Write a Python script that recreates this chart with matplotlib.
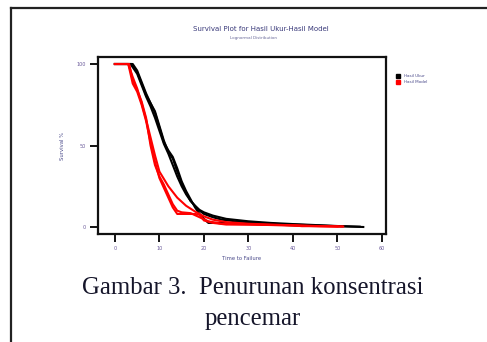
import matplotlib
matplotlib.use("Agg")
import matplotlib.pyplot as plt
from matplotlib.lines import Line2D

# ---- data ----
series_names = ["Hasil Ukur", "Hasil Model"]

black1_t = [0, 3.8, 5, 6, 7, 8, 9, 10, 11, 12, 13, 14, 15, 16, 17, 18, 19, 20, 22, 24, 27, 30, 35, 40, 45, 50, 55.8]
black1_s = [100, 100, 95, 88, 81, 76, 71, 62, 53, 46, 42, 34, 27, 21, 16, 13, 10, 8, 6, 4.5, 3.5, 3, 2, 1.5, 1, 0.5, 0]
black2_t = [0, 3.5, 5, 6, 7, 8, 9, 10, 11, 12, 13, 14, 15, 16, 17, 18, 19, 20, 22, 25, 30, 35, 40, 45, 50, 55]
black2_s = [100, 100, 94, 87, 80, 74, 67, 59, 51, 45, 38, 31, 25, 20, 16, 13, 10.5, 9, 7, 5, 3.5, 2.5, 1.8, 1.2, 0.6, 0.2]
black3_t = [0, 4, 5, 6, 7, 8, 9, 10, 11, 12, 13, 14, 15, 16, 17, 18, 19, 20, 21, 24, 30, 36, 42]
black3_s = [100, 100, 96, 89, 82, 76, 70, 61, 52, 47, 43, 36, 28, 22, 17, 12, 8, 5, 2.5, 2.5, 2, 1.5, 0.8]

red1_t = [0, 3, 4, 5, 6, 7, 8, 9, 10, 11, 12, 13, 14, 16, 18, 19, 20, 22, 25, 30, 35, 40, 42, 45, 51.3]
red1_s = [100, 100, 88, 83, 75, 65, 52, 40, 30, 24, 18, 12, 8, 8, 8, 7.5, 4, 2.5, 1.5, 1.5, 1.2, 1, 0.5, 0.5, 0.3]
red2_t = [0, 3, 4, 5, 6, 7, 8, 9, 10, 12, 14, 16, 18, 20, 22, 25, 30, 35, 40, 45, 51]
red2_s = [100, 100, 92, 85, 76, 66, 55, 44, 34, 25, 18, 13, 9.5, 6.5, 4.5, 3, 2, 1.5, 1, 0.5, 0.3]
red3_t = [0, 3.2, 4, 5, 6, 7, 8, 9, 10, 11, 12, 13, 14, 15, 17, 19, 21, 24, 30, 40, 50]
red3_s = [100, 100, 90, 84, 77, 67, 50, 38, 31, 26, 20, 14, 10, 9, 8.5, 6, 3.5, 2, 1.5, 1, 0.3]

black_curves = [(black1_t, black1_s), (black2_t, black2_s), (black3_t, black3_s)]
red_curves = [(red1_t, red1_s), (red2_t, red2_s), (red3_t, red3_s)]

x_ticks = [0, 10, 20, 30, 40, 50, 60]
y_ticks = [0, 50, 100]

title = "Survival Plot for Hasil Ukur-Hasil Model"
subtitle = "Lognormal Distribution"
xlabel = "Time to Failure"
ylabel = "Survival %"
caption1 = "Gambar 3.  Penurunan konsentrasi"
caption2 = "pencemar"

# ---- figure ----
W, H = 487, 342
fig = plt.figure(figsize=(W / 100, H / 100), dpi=100)
fig.patch.set_facecolor("white")

# outer scanned frame
fig.add_artist(Line2D([11 / W, 11 / W], [0, 1 - 8 / H], color="#222222", lw=1.6, transform=fig.transFigure))
fig.add_artist(Line2D([11 / W, 1], [1 - 8 / H, 1 - 8 / H], color="#222222", lw=1.6, transform=fig.transFigure))

ax = fig.add_axes([98 / W, 1 - 234 / H, (386 - 98) / W, (234 - 57) / H])
for t, s in black_curves:
    ax.plot(t, s, color="black", lw=1.5, solid_joinstyle="round")
for t, s in red_curves:
    ax.plot(t, s, color="#ff0000", lw=1.5, solid_joinstyle="round")

ax.set_xlim(-3.8, 60.9)
ax.set_ylim(-4.3, 104.3)
ax.set_xticks(x_ticks)
ax.set_yticks(y_ticks)
tick_color = "#6a5a9a"
ax.tick_params(axis="both", direction="out", length=6, width=1.3, colors="black",
               labelsize=3.5, labelcolor=tick_color, pad=3)
for sp in ax.spines.values():
    sp.set_linewidth(1.6)
    sp.set_color("#111111")

ax.set_xlabel(xlabel, fontsize=3.8, color="#4a4a8a", labelpad=3)
ax.set_ylabel(ylabel, fontsize=3.8, color="#4a4a8a", labelpad=8)

fig.text(0.535, 1 - 29 / H, title, ha="center", va="center", fontsize=5, color="#3a3a7a")
fig.text(0.52, 1 - 38 / H, subtitle, ha="center", va="center", fontsize=3, color="#6a6a9a")

handles = [Line2D([], [], color="black", marker="s", ms=2.5, ls="none"),
           Line2D([], [], color="#ff0000", marker="s", ms=2.5, ls="none")]
fig.legend(handles, series_names, loc="upper left", bbox_to_anchor=(396 / W, 1 - 74 / H),
           frameon=False, fontsize=3, labelcolor="#4a4a8a", handletextpad=0.8,
           labelspacing=0.5, handlelength=1, borderpad=0, borderaxespad=0)

cap_font = ["Liberation Serif", "DejaVu Serif"]
fig.text(253 / W, 1 - 288 / H, caption1, ha="center", va="center", fontsize=17.8,
         family=cap_font, color="#15152a")
fig.text(253 / W, 1 - 319 / H, caption2, ha="center", va="center", fontsize=17.8,
         family=cap_font, color="#15152a")

fig.savefig("out.png", dpi=100, facecolor="white")
